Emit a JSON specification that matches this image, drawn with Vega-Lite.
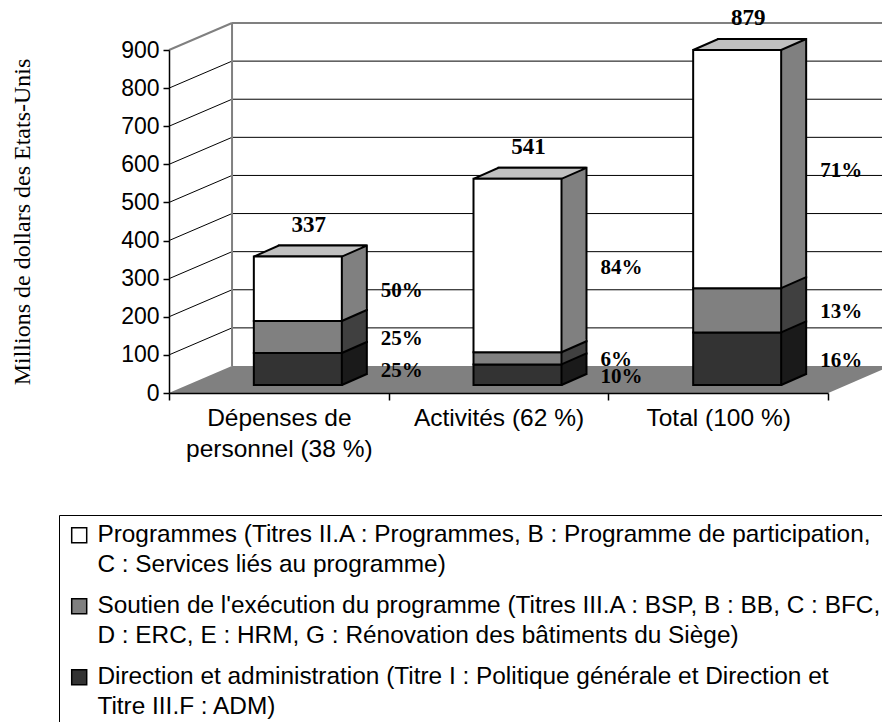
{
  "$schema": "https://vega.github.io/schema/vega-lite/v6.json",
  "width": 659,
  "height": 343,
  "autosize": {"type": "none"},
  "padding": {"left": 169, "top": 50, "right": 54, "bottom": 329},
  "background": "white",
  "config": {"view": {"stroke": null}, "font": "Liberation Sans"},
  "datasets": {
    "main": [
      {"cat": "Dépenses de|personnel (38 %)", "k": "D", "ordre": 1, "serie": "Direction et administration (Titre I : Politique générale et Direction et|Titre III.F : ADM)", "value": 84, "pct": "25%"},
      {"cat": "Dépenses de|personnel (38 %)", "k": "S", "ordre": 2, "serie": "Soutien de l'exécution du programme (Titres III.A : BSP, B : BB, C : BFC,|D : ERC, E : HRM, G : Rénovation des bâtiments du Siège)", "value": 84, "pct": "25%"},
      {"cat": "Dépenses de|personnel (38 %)", "k": "P", "ordre": 3, "serie": "Programmes (Titres II.A : Programmes, B : Programme de participation,|C : Services liés au programme)", "value": 169, "pct": "50%"},
      {"cat": "Activités (62 %)", "k": "D", "ordre": 1, "serie": "Direction et administration (Titre I : Politique générale et Direction et|Titre III.F : ADM)", "value": 54, "pct": "10%"},
      {"cat": "Activités (62 %)", "k": "S", "ordre": 2, "serie": "Soutien de l'exécution du programme (Titres III.A : BSP, B : BB, C : BFC,|D : ERC, E : HRM, G : Rénovation des bâtiments du Siège)", "value": 32, "pct": "6%"},
      {"cat": "Activités (62 %)", "k": "P", "ordre": 3, "serie": "Programmes (Titres II.A : Programmes, B : Programme de participation,|C : Services liés au programme)", "value": 455, "pct": "84%"},
      {"cat": "Total (100 %)", "k": "D", "ordre": 1, "serie": "Direction et administration (Titre I : Politique générale et Direction et|Titre III.F : ADM)", "value": 138, "pct": "16%"},
      {"cat": "Total (100 %)", "k": "S", "ordre": 2, "serie": "Soutien de l'exécution du programme (Titres III.A : BSP, B : BB, C : BFC,|D : ERC, E : HRM, G : Rénovation des bâtiments du Siège)", "value": 116, "pct": "13%"},
      {"cat": "Total (100 %)", "k": "P", "ordre": 3, "serie": "Programmes (Titres II.A : Programmes, B : Programme de participation,|C : Services liés au programme)", "value": 625, "pct": "71%"}
    ],
    "grille": [{"g": 100}, {"g": 200}, {"g": 300}, {"g": 400}, {"g": 500}, {"g": 600}, {"g": 700}, {"g": 800}, {"g": 900}],
    "un": [{"u": 1}]
  },
  "data": {"name": "main"},
  "layer": [
    {
      "data": {"name": "un"},
      "mark": {"type": "point", "shape": "M-110,0L549.5,0L612,-27L-47,-27Z", "size": 4, "filled": true, "fill": "#808080", "strokeWidth": 0, "opacity": 1},
      "encoding": {
        "x": {"datum": "Dépenses de|personnel (38 %)", "type": "nominal"},
        "y": {"datum": 0, "type": "quantitative"}
      }
    },
    {
      "data": {"name": "grille"},
      "mark": {"type": "rule", "xOffset": -46.8, "x2Offset": 250, "yOffset": -27},
      "encoding": {
        "x": {"datum": "Dépenses de|personnel (38 %)", "type": "nominal"},
        "x2": {"datum": "Total (100 %)"},
        "y": {
          "field": "g", "type": "quantitative", "title": "Millions de dollars des Etats-Unis",
          "scale": {"domain": [0, 900], "nice": false},
          "axis": {"values": [0, 100, 200, 300, 400, 500, 600, 700, 800, 900], "tickCount": 10, "labelOverlap": false, "labelFlush": false, "grid": false, "tickSize": 6, "labelPadding": 4, "labelFontSize": 23, "labelColor": "#000000", "tickColor": "#000000", "domainColor": "#000000", "domainWidth": 1.5, "tickWidth": 1.5, "titleFont": "Liberation Serif", "titleFontSize": 24, "titleFontWeight": "normal", "titleColor": "#000000", "titleX": -147, "titleY": 171.5, "titleAngle": -90, "titleAlign": "center", "titleBaseline": "middle", "zindex": 1}
        },
        "color": {"condition": {"test": "datum.g == 900", "value": "#808080"}, "value": "#000000"},
        "strokeWidth": {"condition": {"test": "datum.g == 900", "value": 2}, "value": 1}
      }
    },
    {
      "data": {"name": "grille"},
      "mark": {"type": "rule", "xOffset": -109.8, "x2Offset": -46.8, "y2Offset": -27},
      "encoding": {
        "x": {"datum": "Dépenses de|personnel (38 %)", "type": "nominal"},
        "x2": {"datum": "Dépenses de|personnel (38 %)"},
        "y": {"field": "g", "type": "quantitative", "title": "Millions de dollars des Etats-Unis"},
        "y2": {"field": "g"},
        "color": {"condition": {"test": "datum.g == 900", "value": "#808080"}, "value": "#000000"},
        "strokeWidth": {"condition": {"test": "datum.g == 900", "value": 2}, "value": 1}
      }
    },
    {
      "data": {"name": "un"},
      "mark": {"type": "rule", "color": "#808080", "strokeWidth": 2, "xOffset": -46.8, "yOffset": -27, "y2Offset": -27},
      "encoding": {
        "x": {"datum": "Dépenses de|personnel (38 %)", "type": "nominal"},
        "y": {"datum": 0, "type": "quantitative"},
        "y2": {"datum": 900}
      }
    },
    {
      "mark": {"type": "bar", "width": 88, "xOffset": 44, "yOffset": -19, "y2Offset": -19, "stroke": "#000000", "strokeWidth": 2},
      "encoding": {
        "x": {"field": "cat", "type": "nominal", "title": null, "scale": {"domain": ["Dépenses de|personnel (38 %)", "Activités (62 %)", "Total (100 %)"], "paddingInner": 0, "paddingOuter": 0}},
        "y": {"field": "value", "type": "quantitative", "stack": "zero", "title": "Millions de dollars des Etats-Unis", "scale": {"domain": [0, 900], "nice": false}},
        "order": {"field": "ordre"},
        "fill": {"condition": [{"test": "datum.k == 'P'", "value": "#808080"}, {"test": "datum.k == 'S'", "value": "#404040"}], "value": "#1a1a1a"}
      }
    },
    {
      "transform": [{"stack": "value", "groupby": ["cat"], "sort": [{"field": "ordre"}], "as": ["y0", "y1"]}],
      "mark": {"type": "point", "shape": "M0,0L24,-10.5L24,-13L0,-13Z", "size": 4, "filled": true, "opacity": 1, "strokeWidth": 0, "xOffset": 63, "yOffset": -8},
      "encoding": {
        "x": {"field": "cat", "type": "nominal", "title": null},
        "y": {"field": "y0", "type": "quantitative", "title": "Millions de dollars des Etats-Unis"},
        "fill": {"condition": [{"test": "datum.k == 'P'", "value": "#808080"}, {"test": "datum.k == 'S'", "value": "#404040"}], "value": "#1a1a1a"}
      }
    },
    {
      "transform": [{"stack": "value", "groupby": ["cat"], "sort": [{"field": "ordre"}], "as": ["y0", "y1"]}],
      "mark": {"type": "point", "shape": "M0,0L25,-11", "size": 4, "filled": false, "color": "#000000", "opacity": 1, "strokeWidth": 2, "xOffset": 63, "yOffset": -8},
      "encoding": {
        "x": {"field": "cat", "type": "nominal", "title": null},
        "y": {"field": "y0", "type": "quantitative", "title": "Millions de dollars des Etats-Unis"}
      }
    },
    {
      "transform": [{"stack": "value", "groupby": ["cat"], "sort": [{"field": "ordre"}], "as": ["y0", "y1"]}, {"filter": "datum.k == 'P'"}],
      "mark": {"type": "point", "shape": "M-44,0L44,0L69,-11L-19,-11Z", "size": 4, "filled": true, "fill": "#c0c0c0", "stroke": "#000000", "strokeWidth": 2, "opacity": 1, "xOffset": 19, "yOffset": -8},
      "encoding": {
        "x": {"field": "cat", "type": "nominal", "title": null},
        "y": {"field": "y1", "type": "quantitative", "title": "Millions de dollars des Etats-Unis"}
      }
    },
    {
      "mark": {"type": "bar", "width": 88, "xOffset": 19, "yOffset": -8, "y2Offset": -8, "stroke": "#000000", "strokeWidth": 2},
      "encoding": {
        "x": {
          "field": "cat", "type": "nominal", "title": null,
          "scale": {"domain": ["Dépenses de|personnel (38 %)", "Activités (62 %)", "Total (100 %)"], "paddingInner": 0, "paddingOuter": 0},
          "axis": {"labelExpr": "split(datum.label, '|')", "tickBand": "extent", "tickSize": 7, "labelPadding": 6, "labelFontSize": 24.5, "labelLineHeight": 31, "labelBaseline": "top", "labelAlign": "center", "labelColor": "#000000", "tickColor": "#000000", "domainColor": "#000000", "domainWidth": 1.5, "tickWidth": 1.5, "labelLimit": 300, "labelAngle": 0, "grid": false, "zindex": 1}
        },
        "y": {
          "field": "value", "type": "quantitative", "stack": "zero", "title": "Millions de dollars des Etats-Unis",
          "scale": {"domain": [0, 900], "nice": false},
          "axis": {"values": [0, 100, 200, 300, 400, 500, 600, 700, 800, 900], "tickCount": 10, "labelOverlap": false, "labelFlush": false, "grid": false, "tickSize": 6, "labelPadding": 4, "labelFontSize": 23, "labelColor": "#000000", "tickColor": "#000000", "domainColor": "#000000", "domainWidth": 1.5, "tickWidth": 1.5, "titleFont": "Liberation Serif", "titleFontSize": 24, "titleFontWeight": "normal", "titleColor": "#000000", "titleX": -147, "titleY": 171.5, "titleAngle": -90, "titleAlign": "center", "titleBaseline": "middle", "zindex": 1}
        },
        "order": {"field": "ordre"},
        "color": {
          "field": "serie", "type": "nominal",
          "scale": {
            "domain": ["Programmes (Titres II.A : Programmes, B : Programme de participation,|C : Services liés au programme)", "Soutien de l'exécution du programme (Titres III.A : BSP, B : BB, C : BFC,|D : ERC, E : HRM, G : Rénovation des bâtiments du Siège)", "Direction et administration (Titre I : Politique générale et Direction et|Titre III.F : ADM)"],
            "range": ["#ffffff", "#808080", "#333333"]
          },
          "legend": {"orient": "none", "legendX": -110, "legendY": 465, "title": null, "labelExpr": "split(datum.label, '|')", "labelFont": "Liberation Sans", "labelFontSize": 24.4, "labelLimit": 1000, "labelColor": "#000000", "symbolType": "square", "symbolSize": 225, "symbolStrokeColor": "#000000", "symbolStrokeWidth": 1.5, "strokeColor": "#000000", "fillColor": "#ffffff", "padding": 8, "rowPadding": 16, "labelOffset": 6, "labelBaseline": "middle", "encode": {"labels": {"update": {"lineHeight": {"value": 30}}}}}
        }
      }
    },
    {
      "transform": [
        {"stack": "value", "groupby": ["cat"], "sort": [{"field": "ordre"}], "as": ["y0", "y1"]},
        {"fold": ["y0", "y1"], "as": ["bord", "pos"]},
        {"aggregate": [{"op": "mean", "field": "pos", "as": "ymid"}], "groupby": ["cat", "pct", "k"]}
      ],
      "mark": {"type": "text", "align": "left", "baseline": "alphabetic", "font": "Liberation Serif", "fontWeight": "bold", "fontSize": 21, "color": "#000000", "xOffset": 102, "yOffset": 0},
      "encoding": {
        "x": {"field": "cat", "type": "nominal", "title": null},
        "y": {"field": "ymid", "type": "quantitative", "title": "Millions de dollars des Etats-Unis"},
        "text": {"field": "pct"}
      }
    },
    {
      "transform": [
        {"joinaggregate": [{"op": "sum", "field": "value", "as": "total"}], "groupby": ["cat"]},
        {"filter": "datum.k == 'P'"}
      ],
      "mark": {"type": "text", "align": "center", "baseline": "alphabetic", "font": "Liberation Serif", "fontWeight": "bold", "fontSize": 23, "color": "#000000", "xOffset": 30, "yOffset": -33},
      "encoding": {
        "x": {"field": "cat", "type": "nominal", "title": null},
        "y": {"field": "total", "type": "quantitative", "title": "Millions de dollars des Etats-Unis"},
        "text": {"field": "total"}
      }
    }
  ]
}
